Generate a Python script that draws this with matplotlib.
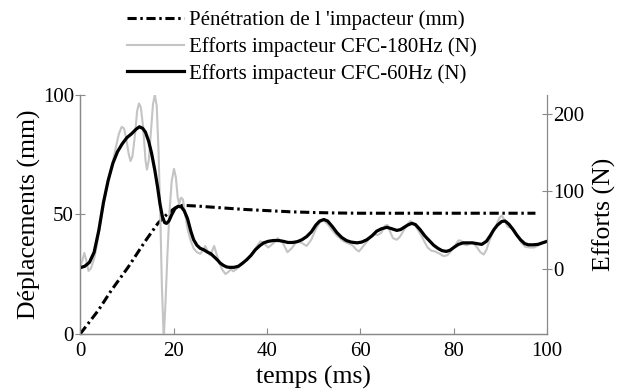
import matplotlib
matplotlib.use("Agg")
import matplotlib.pyplot as plt
from matplotlib.lines import Line2D

plt.rcParams["font.family"] = ["Liberation Serif", "DejaVu Serif"]

# Pénétration de l'impacteur (mm), left axis
t_pen = [0, 1.7, 3.9, 6.7, 10.3, 13.9, 16.7, 18.3, 19.5, 20.3, 21, 22, 25, 30, 35,
         40, 45, 50, 55, 60, 70, 80, 90, 97.5]
pen = [0, 4.3, 9.9, 18.3, 28, 38.7, 46.4, 49.5, 51.5, 52.6, 53.4, 53.8, 53.5, 52.8, 52.1,
       51.6, 51.1, 50.8, 50.6, 50.5, 50.5, 50.5, 50.5, 50.5]

# Efforts impacteur CFC-180Hz (N), right axis
t_180 = [0, 0.5, 0.9, 1.3, 1.8, 2.3, 3, 3.5, 4, 5, 6, 7, 7.7, 8.3, 8.9, 9.4, 9.9,
         10.4, 10.8, 11.2, 11.7, 12.2, 12.6, 13, 13.5, 14, 14.3, 14.7, 15.2, 15.6,
         16, 16.4, 16.8, 17.2, 17.5, 17.9, 18.3, 18.7, 19.1, 19.6, 20.1, 20.5, 20.9,
         21.2, 21.6, 22, 22.5, 23, 23.6, 24.3, 25, 25.7, 26.3, 26.8, 27.3, 27.8,
         28.3, 28.7, 29.2, 29.8, 30.4, 31.1, 31.8, 32.3, 32.8, 33.4, 34, 35, 36, 37,
         38, 38.6, 39.4, 40.3, 41.3, 42.3, 43.3, 44.4, 45.3, 46.4, 47.4, 48.5, 49.5,
         50.5, 51.3, 52.1, 53, 54, 55, 56.4, 57.5, 58.3, 59.2, 59.7, 60.4, 61.2, 62.2,
         63, 63.7, 64.5, 65.3, 65.8, 66.4, 67, 67.8, 68.5, 69.3, 70, 70.7, 71.5, 72.2,
         73, 73.6, 74.4, 75.2, 76, 77, 77.8, 78.6, 79.4, 80.2, 81, 81.5, 82.2, 82.9,
         83.6, 84.3, 85, 85.7, 86.4, 87, 87.6, 88.4, 89.2, 89.8, 90.3, 90.9, 91.5,
         92.2, 93, 93.7, 94.5, 95.3, 96.3, 97.2, 98.2, 99.1, 100]
f_180 = [2, 12, 21, 12, -2, 1, 14, 28, 47, 82, 114, 138, 158, 174, 183, 181, 167,
         148, 139, 145, 170, 203, 213, 208, 182, 140, 128, 140, 180, 212,
         224, 210, 150, 60, -20, -90, -40, 20, 70, 113, 129, 118, 92,
         84, 92, 90, 70, 52, 38, 27, 22, 20, 24, 30, 23, 18,
         24, 30, 20, 8, 0, -6, -3, 0, -2.5, 0, 3, 8, 14, 22,
         31, 36, 33, 28, 33, 40, 35, 22, 27, 36, 34, 30, 38,
         52, 60, 63, 58, 50, 43, 36, 33, 31, 25, 23, 28, 34, 42,
         45, 44, 47, 56, 57, 48, 40, 38, 42, 50, 57, 62, 59, 52,
         44, 37, 28, 24, 23, 20, 17, 18, 23, 30, 37, 37, 32, 31,
         34, 33, 28, 22, 19, 25, 36, 48, 58, 66, 69, 63, 55,
         53, 50, 42, 34, 29, 28, 28, 31, 34, 36]

# Efforts impacteur CFC-60Hz (N), right axis
t_60 = [0, 1, 2, 3, 4, 5, 6, 7, 8, 9, 10, 11, 12, 12.7, 13.4, 14, 14.7, 15.3, 16,
        16.6, 17.1, 17.6, 18.1, 18.5, 19, 19.6, 20.3, 21, 21.7, 22.3, 23, 23.7,
        24.3, 25, 25.7, 26.5, 27.3, 28, 28.7, 29.4, 30, 30.7, 31.4, 32.1, 33, 33.9,
        34.8, 35.7, 36.6, 37.5, 38.4, 39.3, 40.3, 41.4, 42.5, 43.5, 44.5, 45.5, 46.5,
        47.5, 48.5, 49.5, 50.5, 51.3, 52.2, 53, 54, 55, 56, 57, 58, 59.3, 60.3, 61.4,
        62.5, 63.5, 64.5, 65.7, 66.8, 67.8, 68.6, 69.4, 70.2, 71, 71.8, 72.8, 73.8,
        74.9, 75.7, 76.6, 77.5, 78.4, 79.2, 80, 81, 82, 83, 84, 85, 86, 87, 87.8,
        88.6, 89.4, 90.3, 91, 91.8, 92.6, 93.5, 94.3, 95.2, 96, 97, 98, 99, 100]
f_60 = [2, 4, 9, 22, 50, 86, 114, 136, 151, 161, 169, 174, 180, 183, 181, 176, 164,
        149, 127, 105, 84, 68, 60, 59, 62, 70, 78, 81, 80, 75, 65, 49,
        38, 31, 27, 25, 22, 20, 16, 12, 8, 5, 3, 2.5, 2.6, 4,
        8, 12.5, 18, 25, 30, 34, 36, 37, 37, 36, 34.5, 34.5, 35.5,
        38, 42, 48, 57, 62, 64, 62, 55, 47, 41, 37, 35, 34, 35, 38,
        43, 49, 52, 54, 52, 50, 51, 54, 57, 59, 57.5, 51, 43,
        36, 31, 27, 24, 23, 24.5, 28, 32, 34, 34, 34, 33, 32, 36, 43,
        51, 57, 61.5, 62, 58, 52, 44, 38, 33, 31.5, 31.5, 32, 34, 36]

labels = ["Pénétration de l 'impacteur (mm)",
          "Efforts impacteur CFC-180Hz (N)",
          "Efforts impacteur CFC-60Hz (N)"]

spine_col = "#8a8a8a"
dashdot = (0, (3.0, 1.2, 0.8, 1.2))

fig = plt.figure(figsize=(6.26, 3.92), dpi=100)
ax = fig.add_axes([0.128, 0.148, 0.746, 0.610])
ax2 = ax.twinx()

ax.plot(t_pen, pen, color="black", lw=2.2, linestyle=dashdot, zorder=3)
ax2.plot(t_180, f_180, color="#c4c4c4", lw=1.5)
ax2.plot(t_60, f_60, color="black", lw=2.3)

ax.set_xlim(0, 100)
ax.set_ylim(0, 100)
ax2.set_ylim(-83, 224)
ax.set_xticks([0, 20, 40, 60, 80, 100])
ax.set_yticks([0, 50, 100])
ax2.set_yticks([0, 100, 200])

for a in (ax, ax2):
    a.spines["top"].set_visible(False)
    for s in a.spines.values():
        s.set_color(spine_col)
        s.set_linewidth(0.9)
ax.spines["right"].set_visible(False)

ax.tick_params(axis="x", direction="in", length=4, color=spine_col, labelsize=15, pad=6)
ax.tick_params(axis="y", direction="inout", length=7, color=spine_col, labelsize=15, pad=1)
ax2.tick_params(axis="y", direction="inout", length=7, color=spine_col, labelsize=15, pad=1)

ax.set_xlabel("temps (ms)", fontsize=18.5, labelpad=3)
ax.set_ylabel("Déplacements (mm)", fontsize=18.5, labelpad=1)
ax2.set_ylabel("Efforts (N)", fontsize=18.5, rotation=90, labelpad=6)

handles = [Line2D([], [], color="black", lw=2.2, linestyle=dashdot),
           Line2D([], [], color="#c4c4c4", lw=1.5),
           Line2D([], [], color="black", lw=2.3)]
fig.legend(handles, labels, loc="upper left", bbox_to_anchor=(0.19, 0.995),
           frameon=False, fontsize=15, handlelength=2.7, handletextpad=0.25,
           labelspacing=0.33, borderaxespad=0)

fig.savefig("out.png", dpi=100)
